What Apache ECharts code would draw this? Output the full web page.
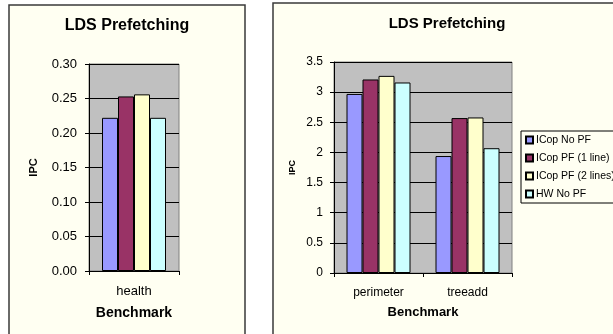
<!DOCTYPE html>
<html>
<head>
<meta charset="utf-8">
<script src="https://cdn.jsdelivr.net/npm/echarts@6/dist/echarts.min.js"></script>
<style>
html,body{margin:0;padding:0;background:#fff;}
#c{width:613px;height:334px;}
</style>
</head>
<body>
<div id="c"></div>
<script>
// ---- data ----
var seriesNames = ['ICop No PF', 'ICop PF (1 line)', 'ICop PF (2 lines)', 'HW No PF'];
var leftCategories = ['health'];
var rightCategories = ['perimeter', 'treeadd'];
var leftIcopNoPF = [0.222];
var leftIcopPF1 = [0.253];
var leftIcopPF2 = [0.256];
var leftHwNoPF = [0.222];
var rightIcopNoPF = [2.97, 1.94];
var rightIcopPF1 = [3.21, 2.57];
var rightIcopPF2 = [3.27, 2.58];
var rightHwNoPF = [3.16, 2.07];
var titleText = 'LDS Prefetching';
var xName = 'Benchmark';
var yName = 'IPC';

var colors = ['#9999FF', '#993366', '#FFFFCC', '#CCFFFF'];
var FONT = "'Liberation Sans', Arial, sans-serif";
var PANEL = '#FFFFF2';

var chart = echarts.init(document.getElementById('c'), null, {renderer: 'canvas'});

function bar(name, data, idx, color) {
  return {
    type: 'bar', name: name, data: data,
    xAxisIndex: idx, yAxisIndex: idx,
    barWidth: 16, barGap: '0%',
    itemStyle: {color: color, borderColor: '#000', borderWidth: 1},
    emphasis: {disabled: true},
    animation: false
  };
}

var leftData = [leftIcopNoPF, leftIcopPF1, leftIcopPF2, leftHwNoPF];
var rightData = [rightIcopNoPF, rightIcopPF1, rightIcopPF2, rightHwNoPF];
var series = [];
for (var i = 0; i < 4; i++) series.push(bar(seriesNames[i], leftData[i], 0, colors[i]));
for (var j = 0; j < 4; j++) series.push(bar(seriesNames[j], rightData[j], 1, colors[j]));

function xAxis(cats, gridIndex, fs, nameFs, gap) {
  return {
    type: 'category', data: cats, gridIndex: gridIndex,
    name: xName, nameLocation: 'middle', nameGap: gap,
    nameTextStyle: {fontFamily: FONT, fontSize: nameFs, fontWeight: 'bold', color: '#000'},
    axisLine: {show: true, lineStyle: {color: '#000', width: 1}},
    axisTick: {show: true, alignWithLabel: false, length: 4, lineStyle: {color: '#000'}},
    axisLabel: {fontFamily: FONT, fontSize: fs, color: '#000', margin: 14},
    splitLine: {show: false}
  };
}
function yAxis(gridIndex, max, interval, fs, fmt, nameFs, gap, margin) {
  return {
    type: 'value', gridIndex: gridIndex, min: 0, max: max, interval: interval,
    name: yName, nameLocation: 'middle', nameRotate: 90, nameGap: gap,
    nameTextStyle: {fontFamily: FONT, fontSize: nameFs, fontWeight: 'bold', color: '#000'},
    axisLine: {show: true, lineStyle: {color: '#000', width: 1}},
    axisTick: {show: true, length: 4, lineStyle: {color: '#000'}},
    axisLabel: {fontFamily: FONT, fontSize: fs, color: '#000', margin: margin, formatter: fmt},
    splitLine: {show: true, lineStyle: {color: '#000', width: 1}}
  };
}

var option = {
  animation: false,
  backgroundColor: '#fff',
  graphic: [
    {type: 'rect', z: -10, shape: {x: 9, y: 5, width: 236, height: 340},
     style: {fill: PANEL, stroke: '#3a3a3a', lineWidth: 1.5}},
    {type: 'rect', z: -10, shape: {x: 273, y: 3, width: 360, height: 342},
     style: {fill: PANEL, stroke: '#3a3a3a', lineWidth: 1.5}}
  ],
  title: [
    {text: titleText, left: 127, top: 18, textAlign: 'center', padding: 0,
     textStyle: {fontFamily: FONT, fontSize: 16, fontWeight: 'bold', color: '#000'}},
    {text: titleText, left: 447, top: 16, textAlign: 'center', padding: 0,
     textStyle: {fontFamily: FONT, fontSize: 15, fontWeight: 'bold', color: '#000'}}
  ],
  legend: {
    data: seriesNames,
    orient: 'vertical', left: 521, top: 131,
    padding: [3, 40, 3, 4],
    itemWidth: 7, itemHeight: 7, itemGap: 6,
    icon: 'rect',
    backgroundColor: PANEL, borderColor: '#000', borderWidth: 1,
    textStyle: {fontFamily: FONT, fontSize: 10.5, color: '#000', lineHeight: 12, padding: [0,0,0,-2]},
    selectedMode: false
  },
  grid: [
    {left: 89, top: 64, width: 90, height: 207, show: true, backgroundColor: '#C0C0C0', borderColor: '#808080', borderWidth: 1},
    {left: 334, top: 62, width: 178, height: 211, show: true, backgroundColor: '#C0C0C0', borderColor: '#808080', borderWidth: 1}
  ],
  xAxis: [
    xAxis(leftCategories, 0, 13, 14, 35),
    xAxis(rightCategories, 1, 12, 13, 33)
  ],
  yAxis: [
    yAxis(0, 0.3, 0.05, 13, function (v) { return v.toFixed(2); }, 11, 50, 12),
    yAxis(1, 3.5, 0.5, 12, null, 9, 37, 11)
  ],
  series: series
};
chart.setOption(option);
</script>
</body>
</html>
